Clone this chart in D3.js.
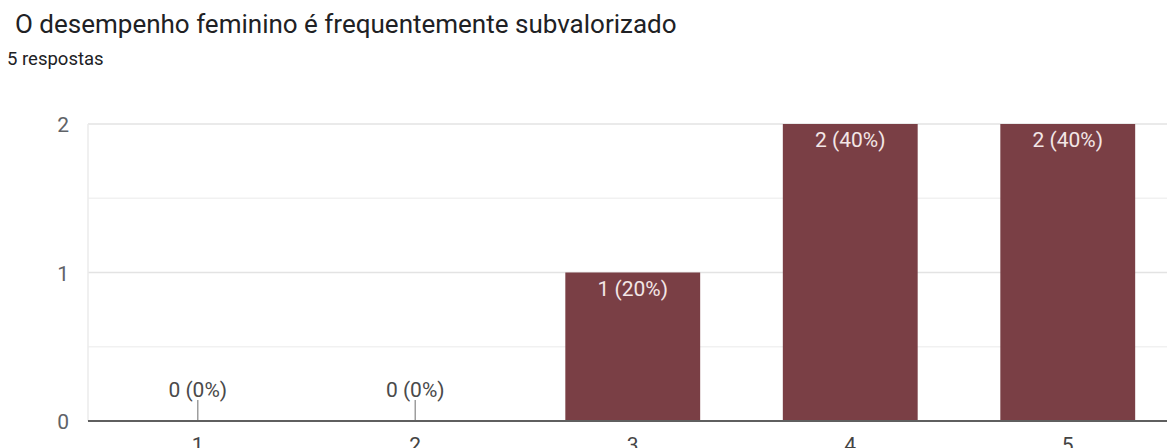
<!DOCTYPE html>
<html>
<head>
<meta charset="utf-8">
<script src="https://cdn.jsdelivr.net/npm/d3@7"></script>
<style>
  body { margin: 0; background: #fff; }
  svg { display: block; font-family: Roboto, "Noto Sans", sans-serif; }
</style>
</head>
<body>
<svg id="chart"></svg>
<script>
const categories = ["1", "2", "3", "4", "5"]
const counts = [0, 0, 1, 2, 2]
const percents = ["0%", "0%", "20%", "40%", "40%"]
const yTicks = [0, 1, 2]
const gridValues = [0.5, 1, 1.5, 2]

const width = 1167
const height = 448

const svg = d3.select("#chart").attr("width", width).attr("height", height)

// header
svg.append("text")
    .attr("x", 15).attr("y", 33)
    .attr("font-size", 26)
    .attr("fill", "#202124")
    .text("O desempenho feminino é frequentemente subvalorizado")

svg.append("text")
    .attr("x", 7).attr("y", 65)
    .attr("font-size", 18.5)
    .attr("fill", "#202124")
    .text("5 respostas")

const x = d3.scaleBand()
    .domain(categories)
    .range([89, 1176.5])
    .paddingInner(0.38)
    .paddingOuter(0.19)

const y = d3.scaleLinear()
    .domain([0, 2])
    .range([421, 124])

// grid lines
svg.append("g")
    .selectAll("line")
    .data(gridValues)
    .join("line")
    .attr("x1", 88).attr("x2", width)
    .attr("y1", d => y(d)).attr("y2", d => y(d))
    .attr("stroke", d => Number.isInteger(d) ? "#e3e3e3" : "#f1f1f1")
    .attr("stroke-width", 1.5)

svg.append("line")
    .attr("x1", 88).attr("x2", 88)
    .attr("y1", y(2)).attr("y2", y(0))
    .attr("stroke", "#ebebeb")
    .attr("stroke-width", 1.5)

// y labels
svg.append("g")
    .selectAll("text")
    .data(yTicks)
    .join("text")
    .attr("x", 69)
    .attr("y", d => y(d) + 8)
    .attr("text-anchor", "end")
    .attr("font-size", 21)
    .attr("fill", "#5f6368")
    .text(d => d)

const data = categories.map((c, i) => ({ cat: c, count: counts[i], pct: percents[i] }))

// bars
svg.append("g")
    .selectAll("rect")
    .data(data.filter(d => d.count > 0))
    .join("rect")
    .attr("x", d => x(d.cat))
    .attr("y", d => y(d.count))
    .attr("width", x.bandwidth())
    .attr("height", d => y(0) - y(d.count))
    .attr("fill", "#7a3f45")

// labels inside bars
svg.append("g")
    .selectAll("text")
    .data(data.filter(d => d.count > 0))
    .join("text")
    .attr("x", d => x(d.cat) + x.bandwidth() / 2)
    .attr("y", d => y(d.count) + 23)
    .attr("text-anchor", "middle")
    .attr("font-size", 21)
    .attr("fill", "#f3e6e6")
    .text(d => `${d.count} (${d.pct})`)

// zero value labels with leader ticks
const zeros = data.filter(d => d.count === 0)
svg.append("g")
    .selectAll("line")
    .data(zeros)
    .join("line")
    .attr("x1", d => x(d.cat) + x.bandwidth() / 2)
    .attr("x2", d => x(d.cat) + x.bandwidth() / 2)
    .attr("y1", y(0) - 21).attr("y2", y(0))
    .attr("stroke", "#9e9e9e")
    .attr("stroke-width", 1.5)

svg.append("g")
    .selectAll("text")
    .data(zeros)
    .join("text")
    .attr("x", d => x(d.cat) + x.bandwidth() / 2)
    .attr("y", y(0) - 24)
    .attr("text-anchor", "middle")
    .attr("font-size", 21)
    .attr("fill", "#4a4a4a")
    .text(d => `${d.count} (${d.pct})`)

// baseline
svg.append("line")
    .attr("x1", 88).attr("x2", width)
    .attr("y1", y(0)).attr("y2", y(0))
    .attr("stroke", "#5f5f5f")
    .attr("stroke-width", 2)

// x labels
svg.append("g")
    .selectAll("text")
    .data(categories)
    .join("text")
    .attr("x", d => x(d) + x.bandwidth() / 2)
    .attr("y", 452)
    .attr("text-anchor", "middle")
    .attr("font-size", 21)
    .attr("fill", "#444")
    .text(d => d)
</script>
</body>
</html>
